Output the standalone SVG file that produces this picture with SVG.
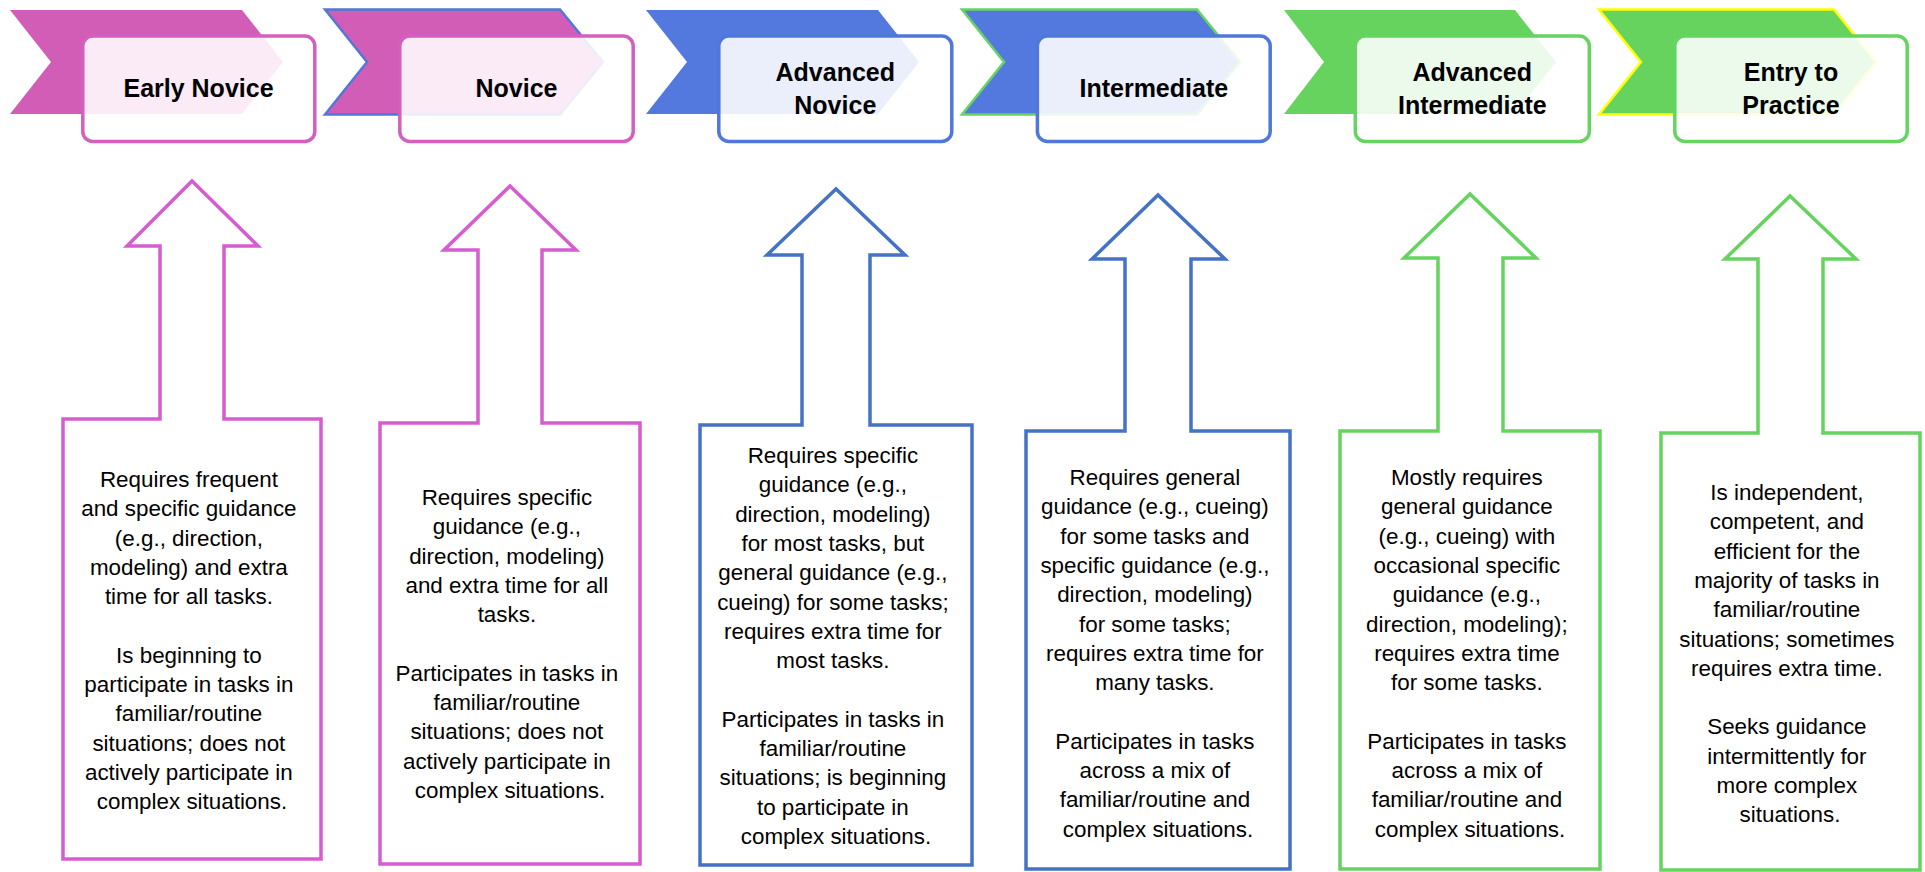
<svg xmlns="http://www.w3.org/2000/svg" width="1925" height="872" viewBox="0 0 1925 872">
<style>
.pinkC{fill:#D15DB6}
.blueC{fill:#5479DE}
.greenC{fill:#66D35F}
.box{fill:#FFFFFF;fill-opacity:0.88;stroke-width:3.5}
.title{font-family:"Liberation Sans",Arial,sans-serif;font-weight:bold;font-size:25px;fill:#000;text-anchor:middle}
.body{font-family:"Liberation Sans",Arial,sans-serif;font-size:22.4px;fill:#000;text-anchor:middle}
.arrow{fill:#FFFFFF;stroke-width:3.5;stroke-linejoin:miter}
</style>
<rect width="1925" height="872" fill="#FFFFFF"/>

<g id="stage1">
<path class="pinkC" d="M10,10 H242 L283,62 L242,114 H10 L51,62 Z"/>
<rect class="box" x="82.8" y="36" width="232" height="105.5" rx="10" stroke="#D35FBF"/>
<text class="title" x="198.5" y="97">Early Novice</text>
</g>

<g id="stage2">
<path class="pinkC" d="M325,9.5 H560 L603,62 L560,114.5 H325 L367,62 Z" stroke="#4F78DA" stroke-width="2.5"/>
<rect class="box" x="399.8" y="36" width="233.4" height="105.5" rx="10" stroke="#D35FBF"/>
<text class="title" x="516.5" y="97">Novice</text>
</g>

<g id="stage3">
<path class="blueC" d="M646,10 H878 L919,62 L878,114 H646 L687,62 Z"/>
<rect class="box" x="718.8" y="36" width="233" height="105.5" rx="10" stroke="#4F78DA"/>
<text class="title" x="835.3" y="80.5">Advanced</text>
<text class="title" x="835.3" y="113.5">Novice</text>
</g>

<g id="stage4">
<path class="blueC" d="M962,9.5 H1197 L1240,62 L1197,114.5 H962 L1004,62 Z" stroke="#66D460" stroke-width="2.5"/>
<rect class="box" x="1037.4" y="36" width="232.8" height="105.5" rx="10" stroke="#4F78DA"/>
<text class="title" x="1153.8" y="97">Intermediate</text>
</g>

<g id="stage5">
<path class="greenC" d="M1284,10 H1515 L1556,62 L1515,114 H1284 L1324,62 Z"/>
<rect class="box" x="1355.3" y="36" width="234" height="105.5" rx="10" stroke="#66D460"/>
<text class="title" x="1472.3" y="80.5">Advanced</text>
<text class="title" x="1472.3" y="113.5">Intermediate</text>
</g>

<g id="stage6">
<path class="greenC" d="M1599,9.5 H1834 L1876,62 L1834,114.5 H1599 L1641,62 Z" stroke="#FFFF00" stroke-width="2.5"/>
<rect class="box" x="1674.8" y="36" width="232.4" height="105.5" rx="10" stroke="#66D460"/>
<text class="title" x="1791" y="80.5">Entry to</text>
<text class="title" x="1791" y="113.5">Practice</text>
</g>

<g id="callout1">
<path class="arrow" stroke="#D65DD0" d="M63,859 V419 H160 V246 H127 L192,181 L258,246 H224 V419 H321 V859 Z"/>
<text class="body">
<tspan x="192" y="487">Requires frequent</tspan>
<tspan x="192" dy="29.3">and specific guidance</tspan>
<tspan x="192" dy="29.3">(e.g., direction,</tspan>
<tspan x="192" dy="29.3">modeling) and extra</tspan>
<tspan x="192" dy="29.3">time for all tasks.</tspan>
<tspan x="192" dy="58.6">Is beginning to</tspan>
<tspan x="192" dy="29.3">participate in tasks in</tspan>
<tspan x="192" dy="29.3">familiar/routine</tspan>
<tspan x="192" dy="29.3">situations; does not</tspan>
<tspan x="192" dy="29.3">actively participate in</tspan>
<tspan x="192" dy="29.3">complex situations.</tspan>
</text>
</g>

<g id="callout2">
<path class="arrow" stroke="#D65DD0" d="M380,864 V423 H478 V250 H444 L510,186 L576,250 H542 V423 H640 V864 Z"/>
<text class="body">
<tspan x="510" y="505">Requires specific</tspan>
<tspan x="510" dy="29.3">guidance (e.g.,</tspan>
<tspan x="510" dy="29.3">direction, modeling)</tspan>
<tspan x="510" dy="29.3">and extra time for all</tspan>
<tspan x="510" dy="29.3">tasks.</tspan>
<tspan x="510" dy="58.6">Participates in tasks in</tspan>
<tspan x="510" dy="29.3">familiar/routine</tspan>
<tspan x="510" dy="29.3">situations; does not</tspan>
<tspan x="510" dy="29.3">actively participate in</tspan>
<tspan x="510" dy="29.3">complex situations.</tspan>
</text>
</g>

<g id="callout3">
<path class="arrow" stroke="#4472C4" d="M700,865 V425 H802 V255 H767 L836,189 L905,255 H870 V425 H972 V865 Z"/>
<text class="body">
<tspan x="836" y="463">Requires specific</tspan>
<tspan x="836" dy="29.3">guidance (e.g.,</tspan>
<tspan x="836" dy="29.3">direction, modeling)</tspan>
<tspan x="836" dy="29.3">for most tasks, but</tspan>
<tspan x="836" dy="29.3">general guidance (e.g.,</tspan>
<tspan x="836" dy="29.3">cueing) for some tasks;</tspan>
<tspan x="836" dy="29.3">requires extra time for</tspan>
<tspan x="836" dy="29.3">most tasks.</tspan>
<tspan x="836" dy="58.6">Participates in tasks in</tspan>
<tspan x="836" dy="29.3">familiar/routine</tspan>
<tspan x="836" dy="29.3">situations; is beginning</tspan>
<tspan x="836" dy="29.3">to participate in</tspan>
<tspan x="836" dy="29.3">complex situations.</tspan>
</text>
</g>

<g id="callout4">
<path class="arrow" stroke="#4472C4" d="M1026,869 V431 H1125 V259 H1092 L1158,195 L1225,259 H1191 V431 H1290 V869 Z"/>
<text class="body">
<tspan x="1158" y="485">Requires general</tspan>
<tspan x="1158" dy="29.3">guidance (e.g., cueing)</tspan>
<tspan x="1158" dy="29.3">for some tasks and</tspan>
<tspan x="1158" dy="29.3">specific guidance (e.g.,</tspan>
<tspan x="1158" dy="29.3">direction, modeling)</tspan>
<tspan x="1158" dy="29.3">for some tasks;</tspan>
<tspan x="1158" dy="29.3">requires extra time for</tspan>
<tspan x="1158" dy="29.3">many tasks.</tspan>
<tspan x="1158" dy="58.6">Participates in tasks</tspan>
<tspan x="1158" dy="29.3">across a mix of</tspan>
<tspan x="1158" dy="29.3">familiar/routine and</tspan>
<tspan x="1158" dy="29.3">complex situations.</tspan>
</text>
</g>

<g id="callout5">
<path class="arrow" stroke="#66D35F" d="M1340,869 V431 H1438 V258 H1404 L1470,194 L1536,258 H1503 V431 H1600 V869 Z"/>
<text class="body">
<tspan x="1470" y="485">Mostly requires</tspan>
<tspan x="1470" dy="29.3">general guidance</tspan>
<tspan x="1470" dy="29.3">(e.g., cueing) with</tspan>
<tspan x="1470" dy="29.3">occasional specific</tspan>
<tspan x="1470" dy="29.3">guidance (e.g.,</tspan>
<tspan x="1470" dy="29.3">direction, modeling);</tspan>
<tspan x="1470" dy="29.3">requires extra time</tspan>
<tspan x="1470" dy="29.3">for some tasks.</tspan>
<tspan x="1470" dy="58.6">Participates in tasks</tspan>
<tspan x="1470" dy="29.3">across a mix of</tspan>
<tspan x="1470" dy="29.3">familiar/routine and</tspan>
<tspan x="1470" dy="29.3">complex situations.</tspan>
</text>
</g>

<g id="callout6">
<path class="arrow" stroke="#66D35F" d="M1661,870 V433 H1758 V259 H1725 L1790,196 L1856,259 H1823 V433 H1920 V870 Z"/>
<text class="body">
<tspan x="1790" y="500">Is independent,</tspan>
<tspan x="1790" dy="29.3">competent, and</tspan>
<tspan x="1790" dy="29.3">efficient for the</tspan>
<tspan x="1790" dy="29.3">majority of tasks in</tspan>
<tspan x="1790" dy="29.3">familiar/routine</tspan>
<tspan x="1790" dy="29.3">situations; sometimes</tspan>
<tspan x="1790" dy="29.3">requires extra time.</tspan>
<tspan x="1790" dy="58.6">Seeks guidance</tspan>
<tspan x="1790" dy="29.3">intermittently for</tspan>
<tspan x="1790" dy="29.3">more complex</tspan>
<tspan x="1790" dy="29.3">situations.</tspan>
</text>
</g>

<g id="connectors"></g>
</svg>
